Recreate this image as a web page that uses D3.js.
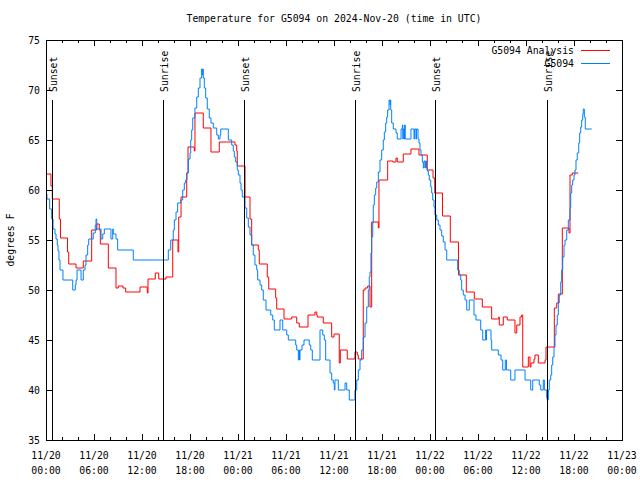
<!DOCTYPE html>
<html><head><meta charset="utf-8">
<script src="https://cdn.jsdelivr.net/npm/d3@7"></script>
<style>body{margin:0;background:#fff}svg{display:block}</style>
</head><body><svg id="c" width="640" height="480"></svg>
<script>
const chartTitle = "Temperature for G5094 on 2024-Nov-20 (time in UTC)";
const yAxisLabel = "degrees F";
const seriesNames = ["G5094 Analysis", "G5094"];
const seriesColors = ["#ff0000", "#0080ff"];
const startUTC = Date.UTC(2024, 10, 20, 0, 0);

// hours after 2024-11-20 00:00 UTC
const analysisHours = [0,0.62,0.79,1.66,1.81,2.69,2.84,3.75,4.66,5.71,6.34,6.66,6.79,7.79,8.75,9.04,9.62,9.96,11.75,12.66,12.75,13.66,14.09,15.0,15.84,16.5,16.59,16.88,17.59,17.75,18.54,18.62,19.66,20.62,21.66,23.62,23.84,23.91,24.88,25.5,25.71,26.54,26.66,27.66,27.84,28.71,28.84,29.75,30.71,31.34,31.66,32.75,33.62,33.84,33.91,34.66,35.71,36.0,36.66,36.79,37.66,38.62,38.91,39.04,39.66,39.88,40.21,40.5,40.71,41.54,41.62,42.71,43.34,43.75,43.91,44.66,45.62,46.62,47.66,48.38,48.59,49.56,50.54,51.56,52.54,53.54,54.54,55.71,56.59,56.66,57.16,57.66,58.62,58.84,59.25,59.46,59.59,60.29,60.5,60.62,61.0,61.12,61.54,62.38,62.5,63.54,63.84,64.04,64.54,65.38,65.5,65.79,66.54];
const analysisTemps = [61.6,60.4,59.1,57.1,55.2,53.8,52.6,52.2,52.9,56.0,56.6,56.0,54.6,52.2,50.2,50.4,50.2,49.8,50.3,49.7,51.1,51.7,51.1,51.3,55.0,53.8,57.3,59.3,61.7,64.3,63.9,67.7,66.2,63.8,64.8,64.5,63.9,62.4,59.3,57.1,54.5,54.0,52.6,51.3,50.1,49.2,48.1,47.1,47.3,46.7,46.3,47.5,47.8,47.5,47.3,46.7,45.3,45.6,42.7,44.0,43.1,43.8,43.5,43.1,50.0,50.2,50.4,48.3,56.8,56.2,61.0,62.9,62.8,63.2,62.8,63.6,64.1,63.5,62.0,61.2,59.7,57.4,54.8,51.5,49.8,49.1,48.3,47.1,47.3,46.5,47.3,47.0,45.7,46.5,47.3,47.5,42.3,43.3,42.3,42.7,43.1,43.5,42.7,43.0,44.3,48.2,48.7,49.6,56.2,55.7,61.5,61.7,61.7];

const obsHours = [0,0.12,0.46,0.71,0.88,1.12,1.25,1.41,1.5,1.62,1.75,2.12,3.34,3.66,3.75,3.88,4.38,4.66,4.88,5.0,5.21,5.34,5.91,6.16,6.25,6.34,6.88,7.09,7.29,8.12,8.34,8.41,8.75,8.96,10.91,15.29,15.59,15.91,16.04,16.25,16.46,16.84,17.09,17.29,17.46,17.62,17.79,18.0,18.09,18.21,18.34,18.62,18.84,19.04,19.25,19.46,19.52,19.59,19.66,19.79,19.96,20.16,20.41,20.62,20.91,21.34,21.54,21.75,21.84,22.79,23.21,23.41,23.54,23.71,23.91,24.04,24.25,24.38,24.54,24.88,25.09,25.29,25.5,25.71,25.91,26.12,26.34,26.46,26.75,26.96,27.16,27.5,28.09,28.34,28.54,29.25,29.59,30.09,30.29,31.21,31.34,31.54,31.62,31.69,31.75,32.0,32.25,32.91,33.09,33.29,34.25,34.59,34.79,34.96,35.5,35.71,35.91,36.04,36.12,36.54,37.38,37.59,37.91,38.62,38.84,39.04,39.25,39.46,39.66,39.88,40.09,40.29,40.41,40.5,40.62,40.71,40.84,40.91,41.04,41.21,41.34,41.54,41.75,41.96,42.16,42.29,42.46,42.59,42.71,42.88,43.0,43.06,43.09,43.21,43.41,43.75,43.91,44.38,44.54,44.6,44.66,44.75,44.82,44.91,45.62,46.0,46.08,46.25,46.31,46.5,46.62,46.75,46.88,47.04,47.16,47.25,47.38,47.46,47.56,47.66,47.79,47.91,48.09,48.21,48.34,48.5,48.62,48.84,49.04,49.25,49.46,49.66,49.88,50.09,51.46,51.66,51.84,51.96,52.16,52.38,52.59,52.91,53.5,53.75,54.34,54.59,54.96,55.0,55.06,55.62,55.71,56.54,56.88,57.09,57.41,57.56,58.09,58.62,59.88,60.59,60.84,61.66,61.84,62.16,62.29,62.59,62.66,62.79,62.91,63.09,63.21,63.34,63.5,63.62,63.75,63.91,64.04,64.16,64.34,64.46,64.59,64.75,64.88,65.09,65.29,65.5,65.59,65.71,65.84,66.0,66.12,66.25,66.41,66.59,66.71,66.84,66.96,67.09,67.16,67.29,67.41,68.21];
const obsTemps = [59.6,59.1,58.1,57.1,56.1,55.6,55.1,54.5,53.9,53.0,52.0,51.0,50.0,50.5,51.0,52.0,51.0,52.0,52.5,53.5,54.5,55.1,55.7,56.5,57.1,56.1,55.1,55.6,56.1,55.1,56.1,55.6,55.1,54.0,53.0,54.0,55.0,56.0,57.0,57.8,58.7,59.0,60.0,60.7,61.0,61.7,63.1,63.7,65.0,66.0,67.2,68.2,69.3,70.2,71.2,72.1,71.5,72.1,71.2,70.2,69.2,68.1,67.2,66.7,66.2,65.5,65.1,65.5,66.1,65.0,64.5,63.9,63.3,62.8,62.0,61.5,60.7,60.0,59.3,58.2,57.2,56.3,55.5,54.5,53.5,52.5,52.0,51.0,50.5,50.0,49.0,48.0,47.5,47.0,46.0,47.0,46.0,45.5,45.0,44.5,44.0,43.0,44.0,43.0,44.0,44.5,45.0,44.5,44.0,43.0,46.0,45.5,45.0,43.0,41.7,41.0,40.7,40.0,41.0,40.0,40.7,40.0,39.0,40.0,41.0,42.0,43.0,44.0,45.3,46.7,48.3,50.0,51.3,51.8,53.7,55.3,56.7,58.5,59.5,60.2,60.8,61.8,63.0,64.0,65.0,65.8,66.7,67.3,68.0,69.0,68.5,69.0,68.0,66.7,66.1,65.7,65.1,66.1,66.5,65.1,66.1,65.1,66.5,65.1,66.1,65.1,66.1,65.1,66.1,65.1,64.7,64.0,63.5,62.8,62.2,62.9,62.2,62.9,62.2,61.9,61.5,61.0,60.3,59.7,59.0,58.3,57.5,57.0,56.5,56.0,55.4,54.8,54.0,53.0,52.0,51.5,51.0,50.0,49.5,49.0,48.0,49.0,47.5,47.0,46.0,45.0,46.0,45.0,46.0,45.0,44.0,43.5,43.0,42.0,43.0,42.0,41.0,42.0,41.0,40.0,41.0,40.5,40.0,41.0,40.0,39.2,39.0,40.0,41.0,41.5,42.5,43.3,44.3,45.5,46.5,47.5,48.7,49.5,50.8,52.0,53.3,54.5,55.0,56.0,57.0,58.2,59.7,60.5,61.0,61.5,62.0,63.0,63.7,64.7,65.7,66.3,67.0,67.6,68.1,67.3,66.1,66.1];

const sunHours = [0.79, 14.66, 24.75, 38.62, 48.62, 62.62];
const sunLabels = ["Sunset", "Sunrise", "Sunset", "Sunrise", "Sunset", "Sunrise"];
const sunLineTopTemp = 69;

const yTicks = [35, 40, 45, 50, 55, 60, 65, 70, 75];
const xMajorHours = [0, 6, 12, 18, 24, 30, 36, 42, 48, 54, 60, 66, 72];
const xMinorHours = d3.range(0, 73, 2);

const H = 3600 * 1000;
const toDate = h => new Date(startUTC + h * H);

const svg = d3.select("#c");
const font = "'DejaVu Sans Mono', 'Liberation Mono', monospace";
const fs = "9.8px";
const L = 46, R = 622, T = 40, B = 440;

const x = d3.scaleUtc().domain([toDate(0), toDate(72)]).range([L, R]);
const y = d3.scaleLinear().domain([35, 75]).range([B, T]);

svg.append("rect").attr("width", 640).attr("height", 480).attr("fill", "#fff");

// Title
svg.append("text").attr("x", 334).attr("y", 22).attr("text-anchor", "middle")
  .attr("font-family", font).attr("font-size", fs).attr("fill", "#000").text(chartTitle);

// Y label
svg.append("text").attr("transform", "translate(14,240) rotate(-90)").attr("text-anchor", "middle")
  .attr("font-family", font).attr("font-size", fs).attr("fill", "#000").text(yAxisLabel);

const clip = svg.append("defs").append("clipPath").attr("id", "pc");
clip.append("rect").attr("x", L).attr("y", T).attr("width", R - L).attr("height", B - T);

function styleAxis(g) {
  g.selectAll("path").remove();
  g.selectAll("line").attr("stroke", "#000").attr("shape-rendering", "crispEdges");
  g.selectAll("text").remove();
}

// minor/major x ticks on bottom and top
svg.append("g").attr("transform", `translate(0,${B})`)
  .call(d3.axisBottom(x).tickValues(xMinorHours.map(toDate)).tickSize(-3)).call(styleAxis);
svg.append("g").attr("transform", `translate(0,${B})`)
  .call(d3.axisBottom(x).tickValues(xMajorHours.map(toDate)).tickSize(-6)).call(styleAxis);
svg.append("g").attr("transform", `translate(0,${T})`)
  .call(d3.axisTop(x).tickValues(xMinorHours.map(toDate)).tickSize(-3)).call(styleAxis);
svg.append("g").attr("transform", `translate(0,${T})`)
  .call(d3.axisTop(x).tickValues(xMajorHours.map(toDate)).tickSize(-6)).call(styleAxis);
svg.append("g").attr("transform", `translate(${L},0)`)
  .call(d3.axisLeft(y).tickValues(yTicks).tickSize(-6)).call(styleAxis);
svg.append("g").attr("transform", `translate(${R},0)`)
  .call(d3.axisRight(y).tickValues(yTicks).tickSize(-6)).call(styleAxis);

// tick labels
const fmtD = d3.utcFormat("%m/%d"), fmtT = d3.utcFormat("%H:%M");
const xl = svg.append("g").attr("font-family", font).attr("font-size", fs).attr("fill", "#000");
xMajorHours.forEach(h => {
  const d = toDate(h);
  xl.append("text").attr("x", x(d)).attr("y", 459).attr("text-anchor", "middle").text(fmtD(d));
  xl.append("text").attr("x", x(d)).attr("y", 474).attr("text-anchor", "middle").text(fmtT(d));
});
yTicks.forEach(v => {
  xl.append("text").attr("x", 40).attr("y", y(v) + 3.5).attr("text-anchor", "end").text(v);
});

// data lines
const line = d3.line().x(d => x(toDate(d.h))).y(d => y(d.v)).curve(d3.curveStepAfter);
const analysis = analysisHours.map((h, i) => ({ h, v: analysisTemps[i] }));
const obs = obsHours.map((h, i) => ({ h, v: obsTemps[i] }));
const dg = svg.append("g").attr("clip-path", "url(#pc)");
dg.append("path").datum(analysis).attr("d", line).attr("fill", "none")
  .attr("stroke", seriesColors[0]).attr("stroke-width", 1);
dg.append("path").datum(obs).attr("d", line).attr("fill", "none")
  .attr("stroke", seriesColors[1]).attr("stroke-width", 1);

// sunrise / sunset markers
const sg = svg.append("g");
sunHours.forEach((h, i) => {
  const px = Math.round(x(toDate(h))) + 0.5;
  sg.append("line").attr("x1", px).attr("x2", px).attr("y1", y(sunLineTopTemp)).attr("y2", B)
    .attr("stroke", "#000").attr("stroke-width", 1);
  sg.append("text").attr("transform", `translate(${px + 4},${y(sunLineTopTemp) - 8}) rotate(-90)`)
    .attr("font-family", font).attr("font-size", fs).attr("fill", "#000").text(sunLabels[i]);
});

// frame
svg.append("rect").attr("x", L + 0.5).attr("y", T + 0.5).attr("width", R - L).attr("height", B - T)
  .attr("fill", "none").attr("stroke", "#000").attr("stroke-width", 1);

// legend
const lg = svg.append("g").attr("font-family", font).attr("font-size", fs);
seriesNames.forEach((n, i) => {
  const ly = 50 + i * 13;
  lg.append("text").attr("x", 574).attr("y", ly + 3.5).attr("text-anchor", "end").attr("fill", "#000").text(n);
  lg.append("line").attr("x1", 581).attr("x2", 610).attr("y1", ly + 0.5).attr("y2", ly + 0.5)
    .attr("stroke", seriesColors[i]).attr("stroke-width", 1);
});
</script></body></html>
